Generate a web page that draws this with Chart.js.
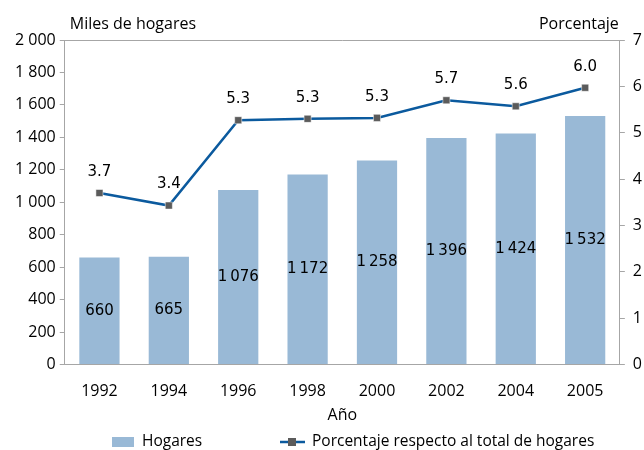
<!DOCTYPE html>
<html>
<head>
<meta charset="utf-8">
<script src="https://cdn.jsdelivr.net/npm/chart.js@4"></script>
<style>
  html, body { margin: 0; padding: 0; background: #fff; }
  #wrap { width: 644px; height: 450px; }
</style>
</head>
<body>
<div id="wrap"><canvas id="hogaresChart"></canvas></div>
<script>
// Datos
const anios = ['1992', '1994', '1996', '1998', '2000', '2002', '2004', '2005'];
const hogares = [660, 665, 1076, 1172, 1258, 1396, 1424, 1532];
const porcentaje = [3.70, 3.43, 5.27, 5.30, 5.32, 5.70, 5.57, 5.97];
const ticksMiles = [0, 200, 400, 600, 800, 1000, 1200, 1400, 1600, 1800, 2000];
const ticksPct = [0, 1, 2, 3, 4, 5, 6, 7];

const AXIS_GRAY = '#a6a6a6';
const BAR_BLUE = '#99b9d6';
const LINE_BLUE = '#0b5a9e';
const MARK_GRAY = '#5b5b5b';
const TICK_FONT = "'Open Sans', sans-serif";
const LABEL_FONT = "'DejaVu Sans', sans-serif";

const conEspacio = (n, sep) => String(n).replace(/\B(?=(\d{3})+(?!\d))/g, sep);

// Línea superior del marco, etiquetas de valores, títulos y leyenda
const extras = {
    id: 'extras',
    beforeDatasetsDraw(chart) {
        const { ctx, chartArea } = chart;
        ctx.save();
        ctx.strokeStyle = AXIS_GRAY;
        ctx.lineWidth = 1;
        ctx.beginPath();
        ctx.moveTo(chartArea.left, chartArea.top + 0.5);
        ctx.lineTo(chartArea.right, chartArea.top + 0.5);
        ctx.stroke();
        ctx.restore();
    },
    afterDatasetsDraw(chart) {
        const { ctx, chartArea } = chart;
        ctx.save();
        ctx.fillStyle = '#000';
        ctx.textAlign = 'center';
        ctx.textBaseline = 'middle';
        ctx.font = '15px ' + LABEL_FONT;

        chart.getDatasetMeta(0).data.forEach((el, i) => {
            ctx.fillText(conEspacio(hogares[i], '\u2009'), el.x, (el.y + el.base) / 2);
        });
        chart.getDatasetMeta(1).data.forEach((el, i) => {
            ctx.fillText(porcentaje[i].toFixed(1), el.x, el.y - 21);
        });

        ctx.font = '16px ' + TICK_FONT;
        ctx.textBaseline = 'alphabetic';
        ctx.textAlign = 'left';
        ctx.fillText('Miles de hogares', chartArea.left + 5, 29);
        ctx.textAlign = 'right';
        ctx.fillText('Porcentaje', chartArea.right - 1, 29);
        ctx.restore();

        // Leyenda
        ctx.save();
        const ly = 442;
        ctx.font = '15.5px ' + TICK_FONT;
        ctx.fillStyle = BAR_BLUE;
        ctx.fillRect(112, ly - 5, 22, 10);
        ctx.fillStyle = '#000';
        ctx.textAlign = 'left';
        ctx.textBaseline = 'middle';
        ctx.fillText('Hogares', 142, ly);

        ctx.strokeStyle = LINE_BLUE;
        ctx.lineWidth = 2.5;
        ctx.beginPath();
        ctx.moveTo(280, ly);
        ctx.lineTo(305, ly);
        ctx.stroke();
        ctx.fillStyle = MARK_GRAY;
        ctx.fillRect(288, ly - 4, 8, 8);
        ctx.fillStyle = '#000';
        ctx.fillText('Porcentaje respecto al total de hogares', 312, ly);
        ctx.restore();
    }
};

new Chart(document.getElementById('hogaresChart'), {
    data: {
        labels: anios,
        datasets: [
            {
                type: 'bar',
                label: 'Hogares',
                data: hogares,
                yAxisID: 'y',
                backgroundColor: BAR_BLUE,
                borderWidth: 0,
                barPercentage: 0.58,
                categoryPercentage: 1,
                order: 2
            },
            {
                type: 'line',
                label: 'Porcentaje respecto al total de hogares',
                data: porcentaje,
                yAxisID: 'y1',
                borderColor: LINE_BLUE,
                borderWidth: 2.5,
                pointStyle: 'rect',
                pointRadius: 5,
                pointBackgroundColor: MARK_GRAY,
                pointBorderColor: '#ffffff',
                pointBorderWidth: 0.5,
                tension: 0,
                order: 1
            }
        ]
    },
    options: {
        responsive: true,
        maintainAspectRatio: false,
        animation: false,
        layout: {
            padding: { top: 40, bottom: 25, left: 11, right: -6 }
        },
        plugins: {
            legend: { display: false },
            tooltip: { enabled: false }
        },
        scales: {
            x: {
                offset: true,
                grid: { display: false, drawTicks: false },
                border: { display: true, color: AXIS_GRAY },
                ticks: {
                    color: '#000',
                    font: { family: TICK_FONT, size: 16 },
                    padding: 17,
                    maxRotation: 0
                },
                title: {
                    display: true,
                    text: 'Año',
                    color: '#000',
                    font: { family: TICK_FONT, size: 16 },
                    padding: { top: -12, bottom: 0 }
                }
            },
            y: {
                position: 'left',
                min: 0,
                max: 2000,
                afterBuildTicks(axis) {
                    axis.ticks = ticksMiles.map(v => ({ value: v }));
                },
                grid: { drawOnChartArea: false, color: AXIS_GRAY, tickLength: 5 },
                border: { display: true, color: AXIS_GRAY },
                ticks: {
                    color: '#000',
                    font: { family: TICK_FONT, size: 16 },
                    padding: 4,
                    callback: v => conEspacio(v, ' ')
                }
            },
            y1: {
                position: 'right',
                min: 0,
                max: 7,
                afterBuildTicks(axis) {
                    axis.ticks = ticksPct.map(v => ({ value: v }));
                },
                grid: { drawOnChartArea: false, color: AXIS_GRAY, tickLength: 5 },
                border: { display: true, color: AXIS_GRAY },
                ticks: {
                    color: '#000',
                    font: { family: TICK_FONT, size: 16 },
                    padding: 8
                }
            }
        }
    },
    plugins: [extras]
});
</script>
</body>
</html>
